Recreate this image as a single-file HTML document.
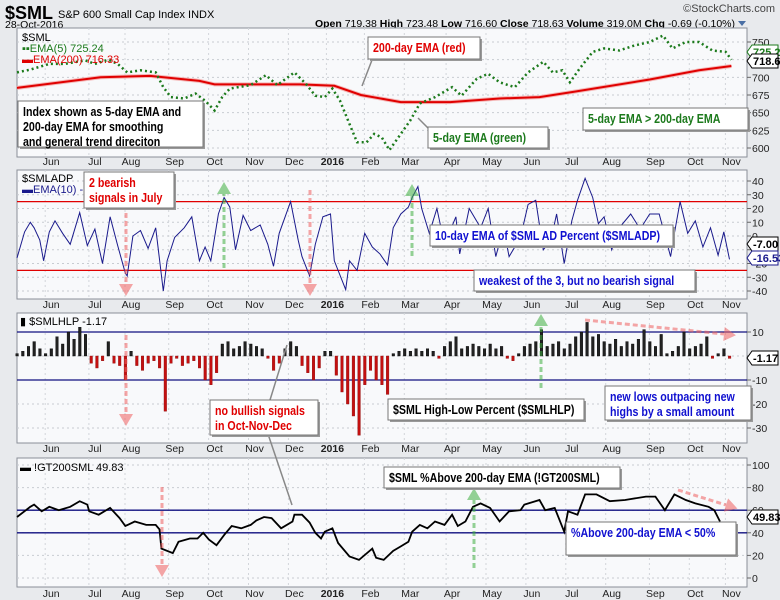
<!DOCTYPE html>
<html><head><meta charset="utf-8"><style>
body{margin:0;background:#e8eaed;}
svg{display:block;font-family:"Liberation Sans",sans-serif;}
.ann{font-family:"Liberation Sans",sans-serif;font-weight:bold;font-size:13px;}
</style></head><body>
<svg id="c" width="780" height="600" viewBox="0 0 780 600" xmlns="http://www.w3.org/2000/svg">
<rect x="0" y="0" width="780" height="600" fill="#e8eaed"/>
<text x="5" y="19" font-size="18" font-weight="bold">$SML</text>
<text x="58" y="18" font-size="11">S&amp;P 600 Small Cap Index  INDX</text>
<text x="775" y="12" font-size="11" text-anchor="end" fill="#444">©StockCharts.com</text>
<text x="5" y="28" font-size="10.5">28-Oct-2016</text>
<text x="735" y="27" font-size="10.5" text-anchor="end"><tspan font-weight="bold">Open</tspan> 719.38 <tspan font-weight="bold">High</tspan> 723.48 <tspan font-weight="bold">Low</tspan> 716.60 <tspan font-weight="bold">Close</tspan> 718.63 <tspan font-weight="bold">Volume</tspan> 319.0M <tspan font-weight="bold">Chg</tspan> -0.69 (-0.10%)</text>
<path d="M738,21 l8,0 l-4,5z" fill="#4a6fa5"/>
<g id="g"></g>
</svg>
<script>
// ---- data ----
const monthLabels=["Jun","Jul","Aug","Sep","Oct","Nov","Dec","2016","Feb","Mar","Apr","May","Jun","Jul","Aug","Sep","Oct","Nov"];
const monthDays=[18,41,60,83,104,125,146,166,186,207,229,250,271,292,313,336,357,376];
const emaFastDays=[0,7,17,25,36,41,48,53,58,65,73,77,81,88,94,99,104,108,112,123,131,137,146,152,157,162,166,170,175,179,184,188,192,196,202,207,212,220,229,234,242,248,254,262,269,277,282,287,291,296,303,309,317,325,333,340,345,352,359,366,373,376];
const emaFastVals=[707,711,719,719,724,719,725,719,707,710,707,686,672,670,677,667,653,672,684,689,703,689,707,691,674,672,684,667,634,608,608,620,615,597,620,639,663,672,686,674,698,705,693,686,707,722,707,710,693,712,736,741,738,745,750,759,741,750,750,738,736,725];
const emaSlowDays=[0,44,70,96,104,149,167,181,202,228,254,275,294,333,359,376];
const emaSlowVals=[685,700,702,695,690,690,688,675,665,665,670,672,680,697,710,716];
const adpDays=[0,4,7,9,12,14,17,20,24,28,33,37,41,45,49,53,57,58,61,65,69,73,77,79,83,88,92,96,99,102,106,109,112,115,119,123,128,132,135,138,144,148,150,154,157,161,165,167,173,175,179,183,187,191,195,198,202,206,208,211,213,217,221,225,231,233,238,244,248,252,256,259,265,269,273,277,281,284,288,292,295,299,303,306,309,313,317,323,328,333,338,344,346,349,353,357,361,365,369,372,375];
const adpVals=[-16,3,10,6,-3,-18,3,11,2,-6,17,-7,5,-20,14,-7,-27,-29,0,4,-9,6,-40,-18,-1,6,14,-18,-8,-18,16,28,21,-10,15,4,8,-6,-22,2,25,-3,-15,-29,-6,14,16,-18,-39,-18,-25,2,-8,-13,-21,6,16,21,28,36,20,2,20,-6,14,-13,20,6,20,-15,6,-15,-1,23,26,-10,-3,16,-20,11,26,42,28,9,14,-10,6,16,5,16,16,-15,2,25,2,11,-8,6,-14,3,-17];
const hlpVals=[1,2,4,6,3,1,3,8,5,10,7,12,9,-3,-5,-2,6,-3,-4,-10,2,-4,-6,-3,-2,-5,-23,-3,-1,-4,-3,-2,-5,-10,-12,-7,5,6,3,4,6,5,4,3,-1,-6,-3,3,6,4,-4,-7,-10,-5,2,2,-8,-15,-20,-25,-33,-12,-6,-10,-12,-16,1,2,3,2,3,2,3,2,-1,4,6,8,3,4,5,4,3,5,3,4,-1,-2,1,4,5,6,11,4,5,6,3,5,8,10,14,8,9,6,5,7,4,6,5,7,11,6,4,9,1,2,4,10,3,4,5,8,-1,1,3,-1];
const hlpStep=3;
const gtDays=[0,7,9,13,17,22,28,33,37,38,43,49,54,57,62,68,73,75,76,82,85,91,95,98,101,105,109,113,118,123,126,130,134,139,145,146,150,154,157,160,162,166,169,175,180,187,189,193,198,202,206,208,212,216,220,225,229,232,236,240,244,249,254,259,265,267,275,278,283,288,290,295,299,305,312,320,331,336,341,346,352,357,364,367,370];
const gtVals=[54,63,65,59,63,60,63,68,65,59,56,62,53,46,50,47,47,43,26,22,32,35,35,40,34,29,38,46,44,47,51,54,53,44,50,56,56,49,40,35,41,44,31,19,16,26,18,16,24,28,32,41,47,44,50,47,56,46,50,63,66,62,50,59,60,65,69,60,62,41,59,56,74,74,68,69,72,72,60,74,69,66,63,60,50];

// ---- axes ----
const X0=17,X1=747,DX=1.9;
const xd=d=>X0+d*DX;
const y1=v=>42+(750-v)*106/150;
const y2=v=>236-v*1.375;
const y3=v=>356-v*2.4;
const y4=v=>578-v*1.13;
const NS="http://www.w3.org/2000/svg";
const G=document.getElementById('g');
function el(t,a,p){const e=document.createElementNS(NS,t);for(const k in a)e.setAttribute(k,a[k]);(p||G).appendChild(e);return e;}
function txt(x,y,s,a,p){const e=el('text',Object.assign({x:x,y:y},a),p);e.textContent=s;return e;}

const panels=[
 {top:28,bot:157,ys:y1,ticks:[600,625,650,675,700,725,750],lab:165,name:'price-panel'},
 {top:170,bot:299,ys:y2,ticks:[-40,-30,-20,-10,0,10,20,30,40],lab:308,name:'adp-panel'},
 {top:313,bot:443,ys:y3,ticks:[-30,-20,-10,0,10],lab:452,name:'hlp-panel'},
 {top:458,bot:587,ys:y4,ticks:[0,20,40,60,80,100],lab:597,name:'gt200-panel'}
];
panels.forEach(p=>{
 const g=el('g',{});
 
 
 el('rect',{x:X0,y:p.top,width:X1-X0,height:p.bot-p.top,fill:'#f8f9fb',stroke:'#8a8f98','stroke-width':1},g);
 p.ticks.forEach(t=>{
  const y=p.ys(t);
  el('line',{x1:X0,x2:X1,y1:y,y2:y,stroke:'#c8ccd2','stroke-dasharray':'2,3'},g);
  el('line',{x1:X1,x2:X1+4,y1:y,y2:y,stroke:'#666'},g);
  const tl=txt(752,y+4,String(t),{'font-size':10.5,fill:'#222'},g);
  
  
 });
 monthDays.forEach((d,i)=>{
  const x=xd(d)-6;
  el('line',{x1:x,x2:x,y1:p.top,y2:p.bot,stroke:'#d2d5da','stroke-dasharray':'2,3'},g);
  const ml=txt(xd(d),p.lab,monthLabels[i],{'font-size':10.5,'text-anchor':'middle',fill:'#222','font-weight':monthLabels[i]==='2016'?'bold':'normal'},g);
  
  
 });
});
function line(days,vals,ys,attrs,name){
 const d=days.map((dd,i)=>(i?'L':'M')+xd(dd).toFixed(1)+','+ys(vals[i]).toFixed(1)).join('');
 const e=el('path',Object.assign({d:d,fill:'none'},attrs));
 
 
 return e;
}
function hline(v,ys,color,name){const e=el('line',{x1:X0,x2:X1,y1:ys(v),y2:ys(v),stroke:color,'stroke-width':1.3});}
// panel 1
line(emaSlowDays,emaSlowVals,y1,{stroke:'#f4b8b8','stroke-width':4},'ema200-glow');
line(emaSlowDays,emaSlowVals,y1,{stroke:'#e00000','stroke-width':2},'ema200-line');
line(emaFastDays,emaFastVals,y1,{stroke:'#1c7a1c','stroke-width':2.5,'stroke-dasharray':'2,3'},'ema5-line');
// panel 2
hline(25,y2,'#e00000','upper-threshold');hline(-25,y2,'#e00000','lower-threshold');
line(adpDays,adpVals,y2,{stroke:'#1a1a8c','stroke-width':1},'adp-ema-line');
// panel 3
hline(10,y3,'#101080','hlp-upper-line');hline(-10,y3,'#101080','hlp-lower-line');
hlpVals.forEach((v,i)=>{
 const x=xd(i*hlpStep)-1.2,y0=y3(0),yv=y3(v);
 const b=el('rect',{x:x,y:Math.min(y0,yv),width:2.6,height:Math.max(1,Math.abs(yv-y0)),fill:v>=0?'#222':'#c41010',stroke:v>=0?'#000':'#901010','stroke-width':0.4});
 
 
});
// panel 4
hline(60,y4,'#101080','gt-upper-line');hline(40,y4,'#101080','gt-lower-line');
line(gtDays,gtVals,y4,{stroke:'#000','stroke-width':1.8},'gt200-line');

// ---- legends ----
function legend(x,y,lines,name){
 const g=el('g',{});
 lines.forEach((l,i)=>txt(x,y+i*11,l[0],{'font-size':11,fill:l[1]},g));
}
legend(22,41,[["$SML","#000"],["▪▪EMA(5) 725.24","#1c7a1c"],["▬EMA(200) 716.33","#e00000"]],'price-legend');
legend(22,182,[["$SMLADP","#000"],["▬EMA(10) -16","#1a1a8c"]],'adp-legend');
legend(20,325,[["▮ $SMLHLP -1.17","#000"]],'hlp-legend');
legend(20,471,[["▬ !GT200SML 49.83","#000"]],'gt200-legend');

// ---- value tags ----
function tag(y,s,color,name){
 const g=el('g',{});
 el('path',{d:`M747,${y} l5,-7 h26 v14 h-26z`,fill:'#fff',stroke:color},g);
 txt(753,y+4,s,{'font-size':11,'font-weight':'bold',fill:color==='#000'?'#000':color},g);
}
tag(52,'725.24','#1c7a1c','ema5-value-tag');
tag(61,'718.63','#000','close-value-tag');
tag(244,'-7.00','#000','adp-value-tag');
tag(258,'-16.53','#1a1a8c','adp-ema-value-tag');
tag(358,'-1.17','#000','hlp-value-tag');
tag(517,'49.83','#000','gt200-value-tag');

// ---- arrows ----
function arrow(x1,yA,x2,yB,color,name){
 const g=el('g',{opacity:0.55});
 el('line',{x1:x1,y1:yA,x2:x2,y2:yB,stroke:color,'stroke-width':3,'stroke-dasharray':'5,3'},g);
 const a=Math.atan2(yB-yA,x2-x1),L=12,W=7;
 const px=x2+Math.cos(a)*L,py=yB+Math.sin(a)*L;
 const nx=-Math.sin(a)*W,ny=Math.cos(a)*W;
 el('path',{d:`M${px},${py} L${x2+nx},${yB+ny} L${x2-nx},${yB-ny}z`,fill:color},g);
}
arrow(126,205,126,284,'#f06060','bearish-arrow-july');
arrow(310,190,310,284,'#f06060','bearish-arrow-dec');
arrow(224,268,224,194,'#40b040','bullish-arrow-oct');
arrow(412,256,412,196,'#40b040','bullish-arrow-mar');
arrow(126,335,126,414,'#f06060','hlp-bearish-arrow');
arrow(541,388,541,326,'#40b040','hlp-bullish-arrow');
arrow(585,320,724,334,'#f06060','hlp-divergence-arrow');
arrow(162,487,162,565,'#f06060','gt-bearish-arrow');
arrow(474,568,474,500,'#40b040','gt-bullish-arrow');
arrow(678,490,726,505,'#f06060','gt-divergence-arrow');

// ---- callout lines ----
function callout(pts,name){const e=el('polyline',{points:pts,fill:'none',stroke:'#888','stroke-width':1.5});}
callout('372,60 362,86','ema200-callout');
callout('430,130 418,118','ema5-callout');
callout('270,400 287,345','no-bullish-callout-up');
callout('268,434 292,505','no-bullish-callout-down');

// ---- annotation boxes ----
function box(x,y,w,h,lines,color,name){
 const g=el('g',{});
 el('rect',{x:x+2,y:y+2,width:w,height:h,fill:'#999'},g);
 el('rect',{x:x,y:y,width:w,height:h,fill:'#fff',stroke:'#777'},g);
 lines.forEach((l,i)=>{
  const t=el('text',{class:'ann',fill:color,transform:`translate(${x+5},${y+15+i*15}) scale(0.82,1)`},g);
  t.textContent=l;
 });
}
box(368,37,112,22,["200-day EMA (red)"],'#e00000','ema200-annotation');
box(18,101,185,46,["Index shown as 5-day EMA and","200-day EMA for smoothing","and general trend direciton"],'#000','method-annotation');
box(428,127,120,21,["5-day EMA (green)"],'#1c7a1c','ema5-annotation');
box(583,108,165,22,["5-day EMA > 200-day EMA"],'#1c7a1c','ema-cross-annotation');
box(84,172,90,36,["2 bearish","signals in July"],'#e00000','bearish-july-annotation');
box(430,225,243,21,["10-day EMA of $SML AD Percent ($SMLADP)"],'#1010d0','adp-annotation');
box(474,270,221,21,["weakest of the 3, but no bearish signal"],'#1010d0','weakest-annotation');
box(210,400,108,35,["no bullish signals","in Oct-Nov-Dec"],'#e00000','no-bullish-annotation');
box(388,399,196,21,["$SML High-Low Percent ($SMLHLP)"],'#000','hlp-annotation');
box(605,386,146,34,["new lows outpacing new","highs by a small amount"],'#1010d0','new-lows-annotation');
box(384,467,236,21,["$SML %Above 200-day EMA (!GT200SML)"],'#000','gt200-annotation');
box(566,522,170,33,["%Above 200-day EMA < 50%"],'#1010d0','below-50-annotation');
</script>
</body></html>
